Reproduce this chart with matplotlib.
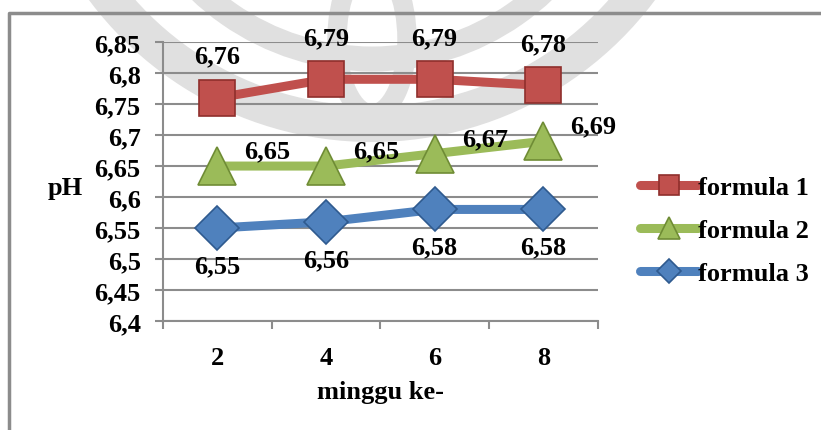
import numpy as np
import matplotlib.pyplot as plt
from matplotlib.patches import Arc, Ellipse

# data
weeks = ["2", "4", "6", "8"]
formula_1 = [6.76, 6.79, 6.79, 6.78]
formula_2 = [6.65, 6.65, 6.67, 6.69]
formula_3 = [6.55, 6.56, 6.58, 6.58]
yticks = [6.4, 6.45, 6.5, 6.55, 6.6, 6.65, 6.7, 6.75, 6.8, 6.85]

plt.rcParams["font.family"] = ["Liberation Serif", "DejaVu Serif"]
plt.rcParams["font.weight"] = "bold"

fig = plt.figure(figsize=(8.21, 4.31), dpi=100)

# background layer in pixel coordinates: faint watermark + chart frame
bg = fig.add_axes([0, 0, 1, 1], zorder=-1)
bg.set_xlim(0, 821)
bg.set_ylim(431, 0)
bg.axis("off")
wm = "#e0e0e0"
bg.add_patch(Arc((372, -210), 670, 670, theta1=25, theta2=155, color=wm, lw=26))
bg.add_patch(Arc((372, -190), 500, 500, theta1=20, theta2=160, color=wm, lw=18))
bg.add_patch(Ellipse((372, 40), 70, 150, fill=False, ec=wm, lw=14))
bg.plot([9, 9, 821], [431, 14, 14], color="#8c8c8c", lw=2.5)

ax = fig.add_axes([0.1985, 0.2529, 0.5295, 0.6471])
ax.set_facecolor("none")

x = np.arange(len(weeks))
series = [
    ("formula 1", formula_1, "#C0504D", "#8f2f2c", "s", 26, (0, 30)),
    ("formula 2", formula_2, "#9BBB59", "#6f8c35", "^", 28, (36, 11)),
    ("formula 3", formula_3, "#4F81BD", "#2f5a8f", "D", 22, (0, -27)),
]

for name, vals, col, edge, mk, ms, off in series:
    ax.plot(x, vals, color=col, lw=6.5, solid_capstyle="round",
            marker=mk, markersize=ms, markerfacecolor=col,
            markeredgecolor=edge, markeredgewidth=1.2, label=name, zorder=3)
    for xi, v in zip(x, vals):
        ax.annotate(f"{v:.2f}".replace(".", ","), (xi, v), xytext=off,
                    textcoords="offset points", ha="center", va="center",
                    fontsize=19, fontweight="bold", zorder=4)

ax.set_xlim(-0.5, len(weeks) - 0.5)
ax.set_ylim(6.4, 6.85)
ax.set_yticks(yticks)
ax.set_yticklabels([f"{t:g}".replace(".", ",") for t in yticks], fontsize=19)
ax.set_xticks(x)
ax.set_xticklabels(weeks, fontsize=19)
ax.set_xticks(np.arange(len(weeks) + 1) - 0.5, minor=True)
ax.tick_params(axis="x", which="major", length=0, pad=18)
ax.tick_params(axis="x", which="minor", length=6, color="#8c8c8c", width=1.5)
ax.tick_params(axis="y", length=6, color="#8c8c8c", width=1.5, pad=10)

ax.grid(axis="y", color="#8c8c8c", lw=1.5, zorder=0)
for s in ["top", "right"]:
    ax.spines[s].set_visible(False)
for s in ["left", "bottom"]:
    ax.spines[s].set_color("#8c8c8c")
    ax.spines[s].set_linewidth(1.5)

ax.set_xlabel("minggu ke-", fontsize=19, fontweight="bold", labelpad=8)
ax.set_ylabel("pH", fontsize=19, fontweight="bold", rotation=0, va="center")
ax.yaxis.set_label_coords(-0.225, 0.48)

leg = ax.legend(loc="center left", bbox_to_anchor=(1.072, 0.325), frameon=False,
                fontsize=19, handlelength=2.2, handletextpad=0.0,
                labelspacing=0.75, markerscale=0.55, borderaxespad=0)

fig.savefig("out.png", dpi=100)
